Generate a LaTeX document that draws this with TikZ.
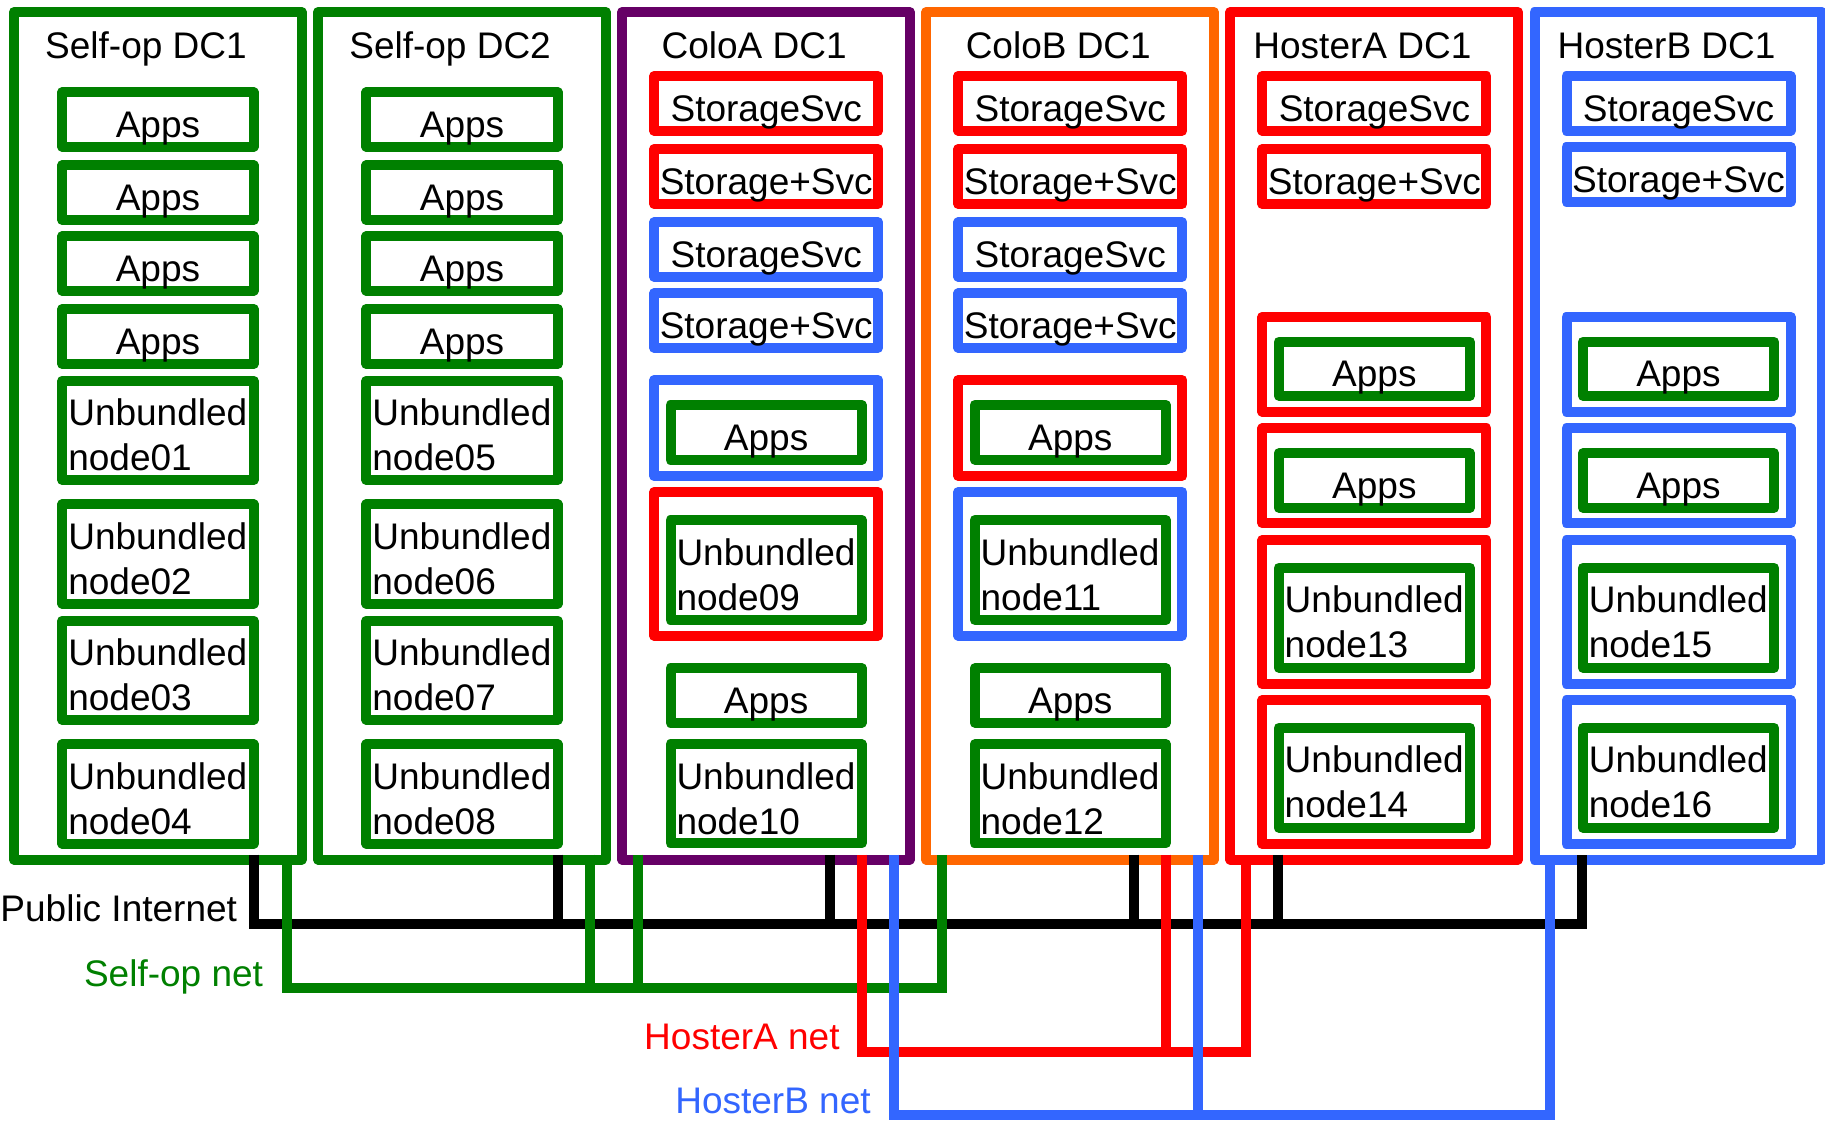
\documentclass[tikz,border=0pt]{standalone}
\usepackage{fontspec}
\setmainfont{Liberation Sans}
\usetikzlibrary{calc}
\definecolor{cgreen}{RGB}{0,128,0}
\definecolor{cred}{RGB}{255,0,0}
\definecolor{cblue}{RGB}{51,102,255}
\definecolor{cpurple}{RGB}{102,0,102}
\definecolor{corange}{RGB}{255,102,0}
\newcommand\mkbox[7]{%
  \pgfmathsetmacro\bxh{#6-#5}%
  \node[box, draw=#2, minimum width=#4pt, minimum height=\bxh pt] (#1) at (#3,#5) {};
  \node[lbl] (#1-t) at ($(#1.center)+(0,18)$) {#7};}
\newcommand\mkframe[6]{%
  \pgfmathsetmacro\bxh{#6-#5}%
  \node[box, draw=#2, minimum width=#4pt, minimum height=\bxh pt] (#1) at (#3,#5) {};}
\newcommand\mkapps[4]{\mkbox{#1}{cgreen}{#2}{191.3}{#3}{#4}{Apps}}
\newcommand\mkunb[5]{%
  \pgfmathsetmacro\bxh{#4-#3}%
  \node[box, draw=cgreen, minimum width=191.3pt, minimum height=\bxh pt] (#1) at (#2,#3) {};
  \node[lbl, anchor=base west] (#1-a) at ($(#1.north west)+(6,45)$) {Unbundled};
  \node[lbl, anchor=base west] (#1-b) at ($(#1.north west)+(6,90)$) {#5};}
\begin{document}
\begin{tikzpicture}[x=1pt,y=-1pt,
  box/.style={draw, rectangle, line width=10pt, line join=round, inner sep=0pt, outer sep=0pt, anchor=north west},
  dcbox/.style={box, minimum width=287.5pt, minimum height=847.5pt},
  lbl/.style={font=\fontsize{37pt}{45pt}\selectfont, inner sep=0pt, outer sep=0pt, anchor=base},
  net/.style={line width=10pt, line join=miter, line cap=butt}]
\fill[white] (0,0) rectangle (1825,1120);
\useasboundingbox (0,0) rectangle (1825,1120);

% data centres
\node[dcbox, draw=cgreen] (dc1) at (14,12) {};
\node[dcbox, draw=cgreen] (dc2) at (318.1,12) {};
\node[dcbox, draw=cpurple] (dc3) at (622.2,12) {};
\node[dcbox, draw=corange] (dc4) at (926.3,12) {};
\node[dcbox, draw=cred] (dc5) at (1230.4,12) {};
\node[dcbox, draw=cblue] (dc6) at (1534.5,12) {};
\node[lbl] (dc1-t) at (146,58) {Self-op DC1};
\node[lbl] (dc2-t) at (450.1,58) {Self-op DC2};
\node[lbl] (dc3-t) at (754.2,58) {ColoA DC1};
\node[lbl] (dc4-t) at (1058.3,58) {ColoB DC1};
\node[lbl] (dc5-t) at (1362.4,58) {HosterA DC1};
\node[lbl] (dc6-t) at (1666.5,58) {HosterB DC1};

% Self-op DC1
\mkapps{a1}{62.3}{92.3}{146.7}
\mkapps{a2}{62.3}{165.3}{220}
\mkapps{a3}{62.3}{236.3}{290.7}
\mkapps{a4}{62.3}{309}{364}
\mkunb{u1}{62.3}{380.7}{480}{node01}
\mkunb{u2}{62.3}{504.3}{603.5}{node02}
\mkunb{u3}{62.3}{620.6}{719.8}{node03}
\mkunb{u4}{62.3}{744.3}{843.5}{node04}
% Self-op DC2
\mkapps{a5}{366.4}{92.3}{146.7}
\mkapps{a6}{366.4}{165.3}{220}
\mkapps{a7}{366.4}{236.3}{290.7}
\mkapps{a8}{366.4}{309}{364}
\mkunb{u5}{366.4}{380.7}{480}{node05}
\mkunb{u6}{366.4}{504.3}{603.5}{node06}
\mkunb{u7}{366.4}{620.6}{719.8}{node07}
\mkunb{u8}{366.4}{744.3}{843.5}{node08}
% ColoA DC1
\mkbox{s1}{cred}{654.2}{224}{76}{130.7}{StorageSvc}
\mkbox{s2}{cred}{654.2}{224}{149}{204}{Storage+Svc}
\mkbox{s3}{cblue}{654.2}{224}{222.3}{276.7}{StorageSvc}
\mkbox{s4}{cblue}{654.2}{224}{293.3}{347.7}{Storage+Svc}
\mkframe{f1}{cblue}{654.2}{224}{380}{476}
\mkapps{a9}{670.5}{405}{459.7}
\mkframe{f2}{cred}{654.2}{224}{492}{635.7}
\mkunb{u9}{670.5}{520}{620}{node09}
\mkapps{a10}{670.5}{668.3}{722.5}
\mkunb{u10}{670.5}{744.3}{843.3}{node10}
% ColoB DC1
\mkbox{s5}{cred}{958.3}{224}{76}{130.7}{StorageSvc}
\mkbox{s6}{cred}{958.3}{224}{149}{204}{Storage+Svc}
\mkbox{s7}{cblue}{958.3}{224}{222.3}{276.7}{StorageSvc}
\mkbox{s8}{cblue}{958.3}{224}{293.3}{347.7}{Storage+Svc}
\mkframe{f3}{cred}{958.3}{224}{380}{476}
\mkapps{a11}{974.6}{405}{459.7}
\mkframe{f4}{cblue}{958.3}{224}{492}{635.7}
\mkunb{u11}{974.6}{520}{620}{node11}
\mkapps{a12}{974.6}{668.3}{722.5}
\mkunb{u12}{974.6}{744.3}{843.3}{node12}
% HosterA DC1
\mkbox{s9}{cred}{1262.4}{224}{76}{130.7}{StorageSvc}
\mkbox{s10}{cred}{1262.4}{224}{149}{204}{Storage+Svc}
\mkframe{f5}{cred}{1262.4}{224}{316.7}{411.7}
\mkapps{a13}{1278.7}{341.7}{395.7}
\mkframe{f6}{cred}{1262.4}{224}{428.3}{523.3}
\mkapps{a14}{1278.7}{453.3}{507.7}
\mkframe{f7}{cred}{1262.4}{224}{540}{684}
\mkunb{u13}{1278.7}{567.7}{667.7}{node13}
\mkframe{f8}{cred}{1262.4}{224}{700}{844}
\mkunb{u14}{1278.7}{727.7}{827.7}{node14}
% HosterB DC1
\mkbox{s11}{cblue}{1566.5}{224}{76}{130.7}{StorageSvc}
\mkbox{s12}{cblue}{1566.5}{224}{146.7}{201.7}{Storage+Svc}
\mkframe{f9}{cblue}{1566.5}{224}{316.7}{411.7}
\mkapps{a15}{1582.8}{341.7}{395.7}
\mkframe{f10}{cblue}{1566.5}{224}{428.3}{523.3}
\mkapps{a16}{1582.8}{453.3}{507.7}
\mkframe{f11}{cblue}{1566.5}{224}{540}{684}
\mkunb{u15}{1582.8}{567.7}{667.7}{node15}
\mkframe{f12}{cblue}{1566.5}{224}{700}{844}
\mkunb{u16}{1582.8}{727.7}{827.7}{node16}

% network attachment points
\coordinate (b1) at ($(dc1.south west)+(240,-5)$);
\coordinate (b2) at ($(dc2.south west)+(239.6,-5)$);
\coordinate (b3) at ($(dc3.south west)+(207.8,-5)$);
\coordinate (b4) at ($(dc4.south west)+(207.3,-5)$);
\coordinate (b5) at ($(dc5.south west)+(47.6,-5)$);
\coordinate (b6) at ($(dc6.south west)+(47.5,-5)$);
\coordinate (g1) at ($(dc1.south west)+(272.5,-5)$);
\coordinate (g2) at ($(dc2.south west)+(272,-5)$);
\coordinate (g3) at ($(dc3.south west)+(15.8,-5)$);
\coordinate (g4) at ($(dc4.south west)+(15.7,-5)$);
\coordinate (r3) at ($(dc3.south west)+(239.8,-5)$);
\coordinate (r4) at ($(dc4.south west)+(240.1,-5)$);
\coordinate (r5) at ($(dc5.south west)+(15.6,-5)$);
\coordinate (l3) at ($(dc3.south west)+(271.8,-5)$);
\coordinate (l4) at ($(dc4.south west)+(271.7,-5)$);
\coordinate (l6) at ($(dc6.south west)+(15.1,-5)$);
\coordinate (kbus) at (0,924);
\coordinate (gbus) at (0,988);
\coordinate (rbus) at (0,1051.7);
\coordinate (lbus) at (0,1115);

% Public Internet
\draw[net, black] (b1) -- (b1|-kbus) -- (b6|-kbus) -- (b6);
\foreach \s in {b2,b3,b4,b5} \draw[net, black] (\s) -- (\s|-kbus);
% Self-op net
\draw[net, cgreen] (g1) -- (g1|-gbus) -- (g4|-gbus) -- (g4);
\foreach \s in {g2,g3} \draw[net, cgreen] (\s) -- (\s|-gbus);
% HosterA net
\draw[net, cred] (r3) -- (r3|-rbus) -- (r5|-rbus) -- (r5);
\draw[net, cred] (r4) -- (r4|-rbus);
% HosterB net
\draw[net, cblue] (l3) -- (l3|-lbus) -- (l6|-lbus) -- (l6);
\draw[net, cblue] (l4) -- (l4|-lbus);

% network labels
\node[lbl, anchor=base east] (pi-t) at (237,921) {Public Internet};
\node[lbl, anchor=base east, text=cgreen] (so-t) at (263,986) {Self-op net};
\node[lbl, anchor=base east, text=cred] (ha-t) at (839.6,1049.3) {HosterA net};
\node[lbl, anchor=base east, text=cblue] (hb-t) at (870.7,1113.3) {HosterB net};
\end{tikzpicture}
\end{document}
